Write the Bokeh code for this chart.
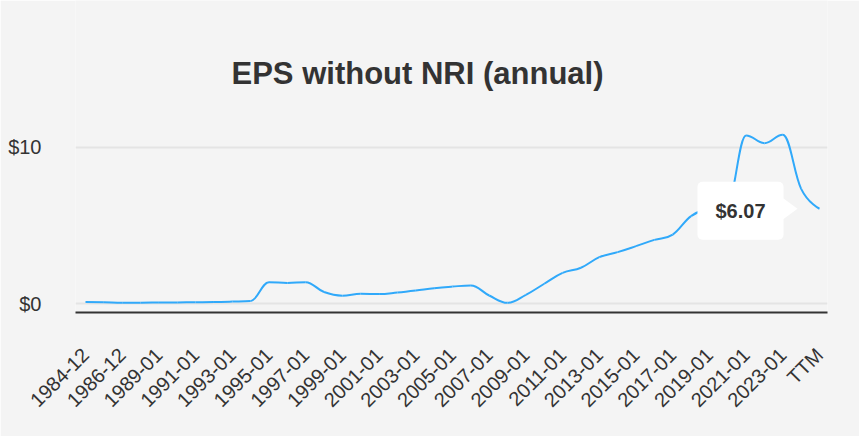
import math
from bokeh.plotting import figure
from bokeh.models import Range1d, FixedTicker, Label
from bokeh.embed import file_html
from bokeh.resources import INLINE

# ---------------- data ----------------
categories = ["1984-12", "1985-12", "1986-12", "1988-01", "1989-01", "1990-01",
              "1991-01", "1992-01", "1993-01", "1994-01", "1995-01", "1996-01",
              "1997-01", "1998-01", "1999-01", "2000-01", "2001-01", "2002-01",
              "2003-01", "2004-01", "2005-01", "2006-01", "2007-01", "2008-01",
              "2009-01", "2010-01", "2011-01", "2012-01", "2013-01", "2014-01",
              "2015-01", "2016-01", "2017-01", "2018-01", "2019-01", "2020-01",
              "2021-01", "2022-01", "2023-01", "2024-01", "TTM"]
eps = [0.11, 0.10, 0.07, 0.07, 0.08, 0.09, 0.10, 0.11, 0.14, 0.18,
       1.38, 1.33, 1.38, 0.75, 0.52, 0.64, 0.62, 0.72, 0.85, 1.00,
       1.10, 1.17, 0.53, 0.06, 0.57, 1.28, 1.97, 2.30, 2.98, 3.30,
       3.68, 4.08, 4.42, 5.60, 6.10, 6.40, 10.75, 10.26, 10.79, 7.34,
       6.07]
y_ticks = [0, 10]
y_tick_labels = ["$0", "$10"]
title_text = "EPS without NRI (annual)"
tooltip_text = "$6.07"

# ---------------- geometry ----------------
W, H = 859, 436
FRAME_L, FRAME_R, FRAME_B = 75, 827, 312
X0_PX, XN_PX = 85, 819          # screen x of first / last category
Y0_PX, Y10_PX = 303.3, 146.7    # screen y of $0 / $10

n = len(eps)
px_per_x = (XN_PX - X0_PX) / (n - 1)
px_per_y = (Y0_PX - Y10_PX) / 10.0
x_start = -(X0_PX - FRAME_L) / px_per_x
x_end = (n - 1) + (FRAME_R - XN_PX) / px_per_x
y_start = -(FRAME_B - Y0_PX) / px_per_y
y_end = Y0_PX / px_per_y

FONT = "Liberation Sans"
TXT = "#333333"
BG = "#f4f4f4"
LINE = "#30a9fa"

p = figure(width=W, height=H, output_backend="svg", toolbar_location=None,
           title=None, x_range=Range1d(x_start, x_end), y_range=Range1d(y_start, y_end),
           min_border_left=FRAME_L, min_border_right=W - FRAME_R,
           min_border_top=0, min_border_bottom=H - FRAME_B)
p.background_fill_color = BG
p.border_fill_color = BG
p.outline_line_color = None

# ---------------- spline (Highcharts-style bezier) ----------------
xs = list(range(n))
lc = [None] * n
rc = [None] * n
s, d = 1.5, 2.5
for i in range(n):
    px_, py_ = xs[i], eps[i]
    if 0 < i < n - 1:
        lx, ly = xs[i - 1], eps[i - 1]
        nx, ny = xs[i + 1], eps[i + 1]
        lcx = (s * px_ + lx) / d
        lcy = (s * py_ + ly) / d
        rcx = (s * px_ + nx) / d
        rcy = (s * py_ + ny) / d
        corr = ((rcy - lcy) * (rcx - px_)) / (rcx - lcx) + py_ - rcy
        lcy += corr
        rcy += corr
        if lcy > ly and lcy > py_:
            lcy = max(ly, py_); rcy = 2 * py_ - lcy
        elif lcy < ly and lcy < py_:
            lcy = min(ly, py_); rcy = 2 * py_ - lcy
        if rcy > ny and rcy > py_:
            rcy = max(ny, py_); lcy = 2 * py_ - rcy
        elif rcy < ny and rcy < py_:
            rcy = min(ny, py_); lcy = 2 * py_ - rcy
        lc[i] = (lcx, lcy)
        rc[i] = (rcx, rcy)
    else:
        lc[i] = (px_, py_)
        rc[i] = (px_, py_)

p.bezier(x0=xs[:-1], y0=eps[:-1], x1=xs[1:], y1=eps[1:],
         cx0=[c[0] for c in rc[:-1]], cy0=[c[1] for c in rc[:-1]],
         cx1=[c[0] for c in lc[1:]], cy1=[c[1] for c in lc[1:]],
         line_color=LINE, line_width=2)

# ---------------- axes ----------------
p.xgrid.grid_line_color = None
p.ygrid.grid_line_color = "#e4e4e4"
p.ygrid.grid_line_width = 2
p.yaxis.ticker = FixedTicker(ticks=y_ticks)
p.yaxis.major_label_overrides = {t: l for t, l in zip(y_ticks, y_tick_labels)}
p.yaxis.axis_line_color = None
p.yaxis.major_tick_line_color = None
p.yaxis.minor_tick_line_color = None
p.yaxis.major_label_standoff = 28
p.yaxis.major_label_text_font = FONT
p.yaxis.major_label_text_font_size = "20px"
p.yaxis.major_label_text_color = TXT

p.xaxis.ticker = FixedTicker(ticks=list(range(0, n, 2)))
p.xaxis.major_label_overrides = {i: categories[i] for i in range(0, n, 2)}
p.xaxis.major_label_orientation = math.pi / 4
p.xaxis.axis_line_color = "#333333"
p.xaxis.axis_line_width = 2
p.xaxis.major_tick_line_color = None
p.xaxis.minor_tick_line_color = None
p.xaxis.major_label_standoff = 33
p.xaxis.major_label_text_font = FONT
p.xaxis.major_label_text_font_size = "20px"
p.xaxis.major_label_text_color = TXT

# ---------------- title ----------------
p.add_layout(Label(x=x_start + (417 - FRAME_L) / px_per_x, y=y_end - 73 / px_per_y,
                   text=title_text, text_align="center", text_baseline="middle",
                   text_font=FONT, text_font_size="31px", text_font_style="bold",
                   text_color=TXT))

# ---------------- tooltip ----------------
tx, ty = xs[-1], eps[-1]
p.add_layout(Label(x=tx, y=ty, x_offset=-77, y_offset=-5, text=tooltip_text,
                   text_align="center", text_baseline="middle", text_alpha=0,
                   text_font=FONT, text_font_size="20px", text_font_style="bold",
                   background_fill_color="#000000", background_fill_alpha=0.10,
                   padding=19, border_radius=5))
p.add_layout(Label(x=tx, y=ty, x_offset=-79, y_offset=-2, text=tooltip_text,
                   text_align="center", text_baseline="middle",
                   text_font=FONT, text_font_size="20px", text_font_style="bold",
                   text_color=TXT, background_fill_color="#ffffff",
                   padding=18, border_radius=5))
arrow = p.patch(x=[tx - 37 / px_per_x, tx - 22 / px_per_x, tx - 37 / px_per_x],
                y=[ty + 11 / px_per_y, ty, ty - 11 / px_per_y],
                fill_color="#ffffff", line_color=None)
arrow.level = "overlay"

open("out.html", "w").write(file_html(p, INLINE))
